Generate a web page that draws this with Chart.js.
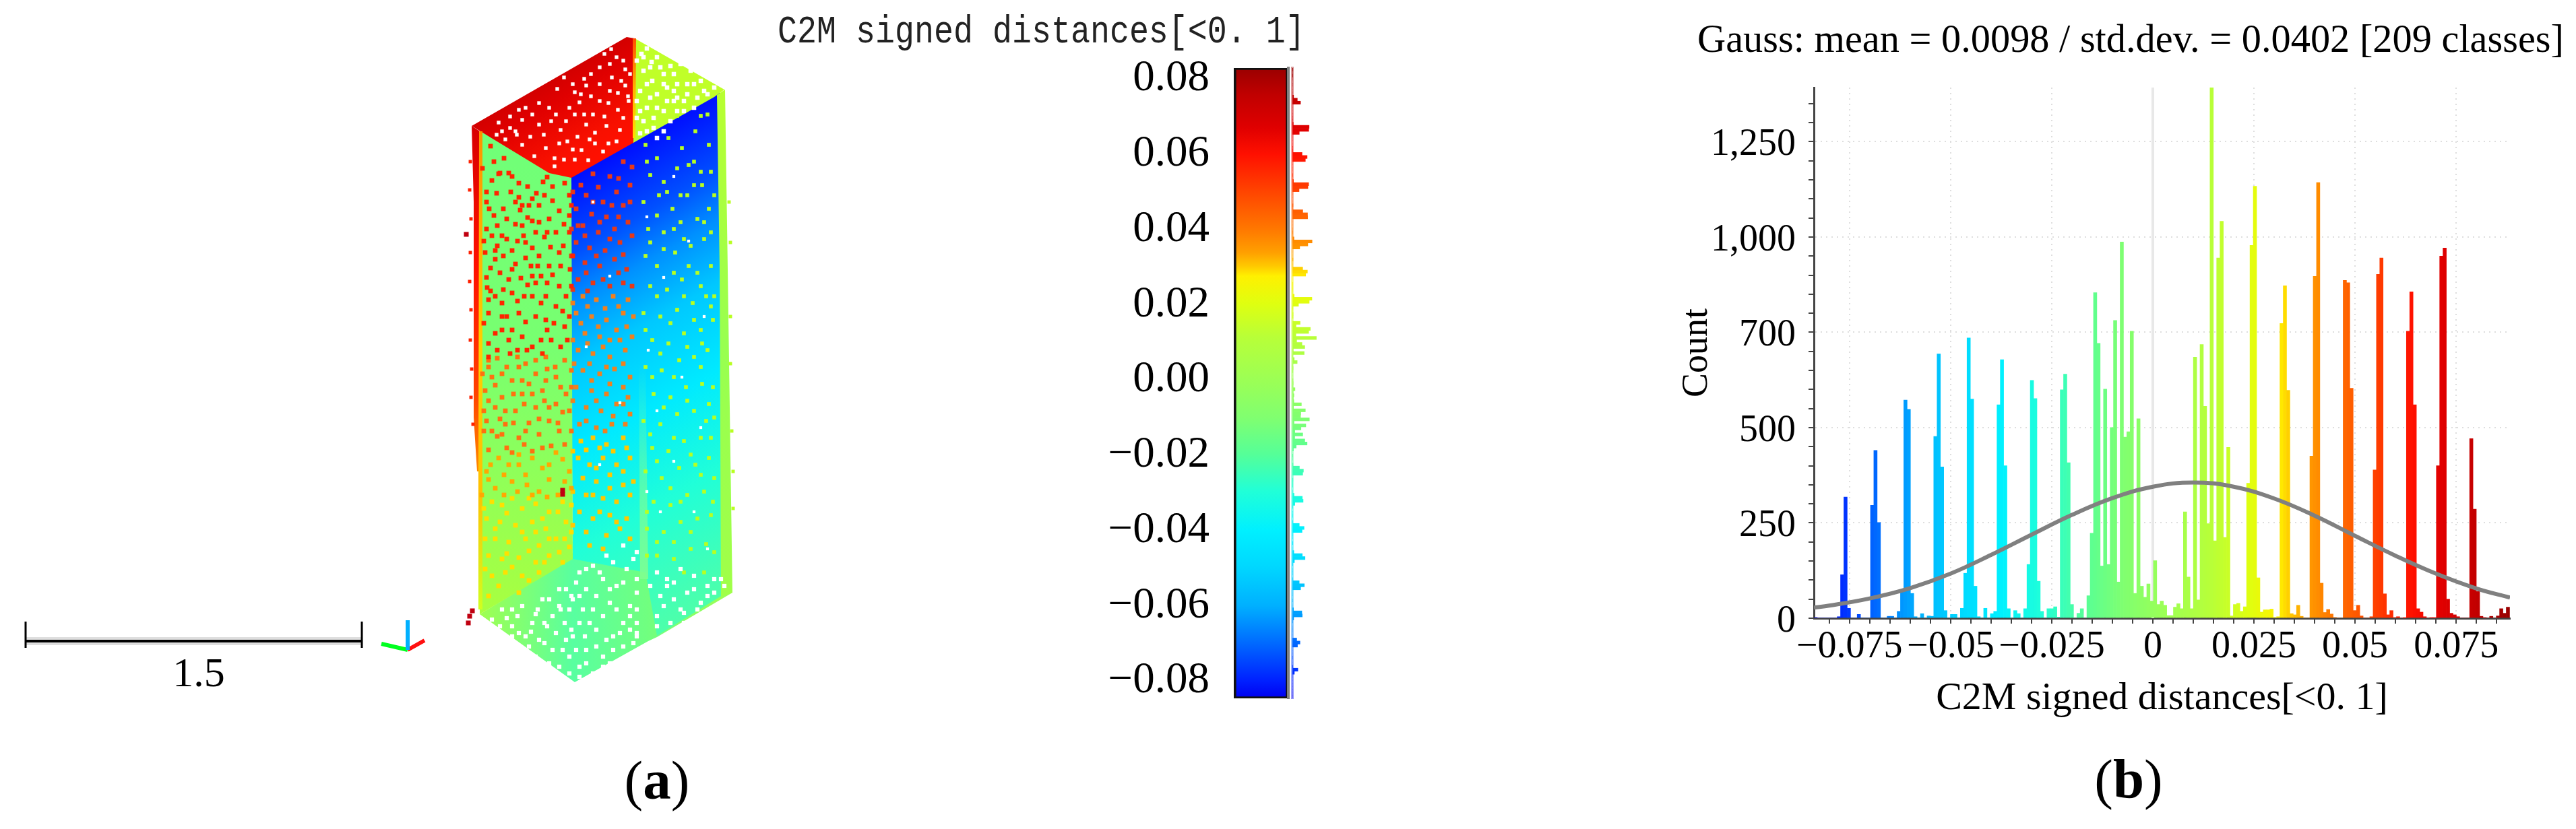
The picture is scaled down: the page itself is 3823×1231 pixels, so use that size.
<!DOCTYPE html>
<html lang="en">
<head>
<meta charset="UTF-8" />
<title>C2M signed distances</title>
<style>
  html, body { margin: 0; background: #fff; overflow: hidden; }
  canvas { position: absolute; }
</style>
<script src="https://cdn.jsdelivr.net/npm/chart.js"></script>
</head>
<body>
<canvas id="cloudChart" style="left:0;top:0" width="1100" height="1231"></canvas>
<canvas id="barChart" style="left:1100px;top:0" width="1000" height="1231"></canvas>
<canvas id="sideChart" style="left:1914px;top:0" width="120" height="1231"></canvas>
<canvas id="histChart" style="left:2440px;top:0" width="1383" height="1231"></canvas>
<script>
// ---- histogram, read class by class from panel (b)
const classCounts = [
  2,0,0,0,0,0,0,4,114,318, 26,0,0,10,0,0,0,296,440,251,
  0,0,5,5,0,18,73,572,548,65, 4,0,12,0,6,5,477,693,397,20,
  0,10,10,0,26,118,735,575,84,4, 0,26,0,12,18,560,678,400,25,0,
  20,12,0,25,141,624,576,97,18,0, 25,25,30,3,599,640,408,36,0,13,
  25,0,59,223,854,721,137,601,141,500, 781,95,987,475,489,753,65,523,84,55,
  90,45,151,36,45,34,7,7,29,38, 25,279,108,25,685,48,718,556,248,1392,
  203,945,1041,212,448,6,36,39,18,30, 354,978,1133,106,16,22,22,24,2,4,
  773,872,598,12,9,34,5,0,0,425, 897,1143,92,15,23,11,2,0,0,886,
  880,603,20,34,6,0,0,4,389,902, 945,64,9,20,2,4,0,1,753,856,
  560,25,16,4,0,1,1,400,950,971, 50,13,9,4,0,0,0,471,286,70,
  5,1,0,5,0,6,25,13,29
];
const classStart = -0.0838;
const classWidth = 0.000823;

const gaussX = [-0.0838,-0.08,-0.07,-0.06,-0.05,-0.04,-0.03,-0.02,-0.01,0,0.01,0.02,0.03,0.04,0.05,0.06,0.07,0.08,0.0883];
const gaussY = [28,33,52,79,117,166,219,271,315,345,356,345,314,269,216,164,117,78,54];

const xTickValues = [-0.075,-0.05,-0.025,0,0.025,0.05,0.075];
const xTickLabels = ['−0.075','−0.05','−0.025','0','0.025','0.05','0.075'];
const yTickValues = [0,250,500,750,1000,1250];
const yTickLabels = ['0','250','500','700','1,000','1,250'];

// ---- colour scale
const barTickValues = [0.08,0.06,0.04,0.02,0,-0.02,-0.04,-0.06,-0.08];
const barTickLabels = ['0.08','0.06','0.04','0.02','0.00','−0.02','−0.04','−0.06','−0.08'];
const barMin = -0.0846;
const barMax = 0.0829;
const rampStops = [
  [0,'#0000f0'],[0.028,'#0020ff'],[0.093,'#0070ff'],[0.147,'#00b0ff'],[0.21,'#00d8ff'],
  [0.267,'#00f0ff'],[0.328,'#20ffd8'],[0.387,'#55ff98'],[0.445,'#80ff70'],[0.505,'#9cff55'],
  [0.573,'#b8ff38'],[0.626,'#dfff10'],[0.67,'#fff000'],[0.686,'#ffc800'],[0.707,'#ffa000'],
  [0.745,'#ff7700'],[0.809,'#ff4000'],[0.863,'#ff1000'],[0.905,'#e00000'],[0.958,'#c00000'],[1,'#9a0000']
];

// ---- point cloud of panel (a), in picture pixels
const redTopFace = [[700,187],[930,55],[942,57],[940,212],[848,264],[815,257],[713,195]];
const limeTopFace = [[942,57],[1075,133],[1060,144],[940,212]];
const greenFace = [[712,195],[848,263],[850,830],[712,912]];
const blueFace = [[846,258],[1060,138],[1068,136],[1072,884],[975,944],[958,850],[850,830]];
const bottomFace = [[712,912],[850,828],[945,800],[960,850],[1087,880],[975,946],[962,952],[853,1013]];
const leftStrip = [[700,187],[712,195],[712,700],[708,700],[703,620],[703,300]];
const yellowStrip = [[711,195],[716,195],[716,905],[710,905],[710,700]];
const rightStrip = [[1064,141],[1076,133],[1080,400],[1087,880],[1070,886],[1068,400]];
const ridgeStrip = [[939,57],[944,57],[943,205],[939,205]];
const paleBand = [[948,540],[958,540],[962,860],[950,860]];

const redTopGaps = [[907,73],[897,80],[908,115],[928,103],[867,117],[877,110],[870,127],[853,137],[877,143],[860,152],[903,153],[917,138],[932,143],[928,127],[837,115],[827,132],[800,153],[770,163],[775,178],[757,173],[757,190],[740,182],[818,180],[832,193],[853,170],[867,170],[897,173],[917,163],[920,193],[883,197],[857,203],[875,207],[842,210],[830,213],[807,200],[787,203],[767,200],[750,207],[737,200],[863,223],[837,237],[823,235],[853,237],[873,238],[793,232],[823,247],[883,213],[933,150],[900,187],[903,213],
  [915,85],[890,100],[905,95],[922,120],[850,125],[890,125],[905,135],[815,160],[790,170],[845,160],[880,170],[925,175],[765,195],[800,185],[825,170],[870,185],[840,180],[895,225],[850,222],[810,220],[775,215],[745,195],[915,210],[925,90],[935,110],[780,160],[890,150],[862,140]];
const limeTopGaps = [[952,80],[960,72],[967,92],[975,85],[955,105],[985,110],[995,98],[1005,125],[968,120],[950,135],[975,140],[990,150],[1000,135],[1020,125],[1035,145],[1015,150],[960,160],[985,165],[1005,165],[1040,120],[955,180],[970,190],[995,180],[950,198],[960,195],[1050,140],[1025,105],[1010,95],[985,125],[945,150],
  [965,100],[980,100],[1000,110],[945,90],[960,125],[975,160],[1020,140],[1030,125],[1045,135],[1005,145],[950,165],[965,145],[990,130],[1015,165],[975,205],[945,175],[985,195],[970,175],[1000,150],[955,85],[1030,160],[1060,130]];
const bottomGaps = [[730,920],[745,905],[760,930],[775,900],[790,925],[805,890],[820,915],[840,875],[735,945],[755,955],[780,945],[800,950],[825,940],[845,905],[770,970],[795,975],[820,965],[840,950],[805,995],[830,990],[845,975],[760,905],[785,960],[815,890],[838,925],[860,850],[880,840],[900,825],[925,810],[940,830],[945,860],[945,880],[870,875],[895,860],[915,870],[935,900],[860,885],[880,905],[905,895],[925,925],[860,925],[885,935],[910,945],[935,935],[870,965],[895,975],[925,960],[860,990],[880,1000],[905,985],[945,925],[945,945],[975,850],[990,860],[1010,845],[1030,855],[1050,870],[1070,860],[980,885],[1000,890],[1020,880],[1040,895],[975,915],[995,925],[1015,910],[990,945],[1060,880],
  [722,925],[752,918],[768,915],[798,905],[830,900],[848,885],[728,935],[742,930],[770,940],[788,938],[812,930],[832,905],[745,945],[765,955],[808,955],[835,965],[782,975],[790,990],[815,985],[760,945],[848,935],[822,1000],[845,1000],[795,912],[808,925],[855,865],[870,845],[890,850],[910,835],[930,845],[925,865],[905,875],[885,885],[865,905],[850,945],[875,925],[895,915],[915,905],[935,915],[945,905],[868,945],[900,950],[920,940],[855,965],[885,960],[910,965],[940,955],[870,985],[895,990],[915,985],[945,940],[860,1005],[965,870],[1000,865],[985,900],[1010,905],[1030,875],[1050,885],[1035,905],[1015,925],[975,930],[1005,940],[1075,870],[990,870],[1060,860],[850,890],[830,875],[945,820]];
const sideGaps = [[1000,262],[960,322],[1022,358],[985,412],[1045,470],[962,520],[1012,560],[975,610],[1040,635],[1000,685],[960,730],[1030,760],[880,300],[905,410],[870,515],[920,598],[890,690],[980,760],[1050,815]];

const greenRedSpecks = [[728,217],[733,240],[742,257],[730,268],[770,272],[783,277],[737,287],[770,293],[796,287],[747,310],[783,323],[790,328],[765,333],[733,320],[830,313],[820,277],[812,263],[777,350],[780,360],[730,350],[817,367],[747,380],[780,383],[803,410],[773,413],[723,427],[747,430],[783,423],[837,333],[722,300],[755,257],[800,305],[845,290],[722,340],[760,372],[795,345],[832,395],[742,405],[810,440],[768,447],[725,465],[752,470],[795,470],[840,440],[822,480],[735,495],[775,500],[803,505],[757,525],[720,375],[765,300],[825,345],[800,380],[745,350],[836,365],[788,395],[760,400],[728,398],[812,420],[790,440],[745,450],[830,425],[725,445],[780,478],[845,470],[760,490],[818,505],[738,520],[790,515],[842,505],
  [716,250],[748,235],[760,262],[790,295],[808,290],[838,272],[726,310],[752,325],[772,312],[815,325],[845,320],[718,358],[738,365],[768,358],[790,368],[808,352],[845,345],[735,385],[765,392],[815,395],[846,400],[722,412],[755,415],[795,420],[820,408],[735,440],[760,435],[778,440],[803,450],[825,455],[848,425],[718,480],[745,490],[770,465],[810,475],[835,462],[725,510],[755,505],[782,520],[812,490],[832,515],[722,285],[758,285],[806,270],[848,305],[738,335],[775,335],[800,330],[820,298],[740,258],[785,305],[830,375],[752,355],[728,432],[798,395],[838,485],[768,520],[745,470],[805,525],[725,530],[775,305],[812,345],[790,410],[850,380],[735,372]];
const greenOrangeSpecks = [[725,535],[752,545],[780,540],[810,530],[838,535],[730,560],[760,565],[795,555],[825,560],[720,580],[745,590],[775,585],[805,580],[840,585],[735,605],[765,610],[795,605],[825,600],[722,625],[750,630],[785,628],[815,625],[845,610],[738,648],[770,650],[800,645],[830,640],[760,672],[790,670],[725,668],[818,662],[745,555],[775,565],[812,548],
  [738,532],[768,530],[795,535],[824,545],[848,550],[716,555],[735,572],[762,585],[785,570],[810,565],[832,575],[725,595],[750,610],[778,600],[808,595],[835,612],[718,640],[745,645],[762,628],[800,622],[828,628],[848,640],[730,640],[752,665],[778,660],[805,665],[838,660],[718,610],[790,585],[848,575],[770,545],[725,545],[815,605],[742,622],[780,640]];
const greenAmberSpecks = [[728,690],[740,680],[748,705],[770,690],[790,680],[805,695],[825,672],[835,682],[845,700],[760,715],[782,720],[815,712],[735,725],[800,730],
  [722,700],[755,690],[780,705],[815,690],[838,715],[725,712],[768,730],[790,735],[828,735],[748,735],[848,725],[715,735],[812,738],[770,675]];
const greenYellowSpecks = [[730,745],[745,750],[760,740],[775,755],[795,748],[815,760],[835,745],[722,770],[742,775],[765,780],[790,775],[810,785],[840,775],[735,800],[755,805],[780,800],[800,810],[825,800],[845,812],[725,825],[745,830],[770,828],[795,835],[815,825],[835,835],[750,850],[775,855],[730,855],[800,850],
  [718,755],[752,762],[785,740],[805,770],[828,760],[848,750],[735,785],[775,790],[815,800],[720,800],[752,822],[785,818],[808,835],[838,800],[720,845],[760,842],[785,862],[740,870],[770,880],[725,885],[848,790],[795,790],[830,820]];
const blueRedSpecks = [[862,275],[880,258],[905,262],[925,240],[870,290],[895,300],[915,285],[935,275],[855,310],[878,318],[900,322],[925,305],[865,335],[888,345],[912,340],[932,330],[855,360],[875,368],[898,372],[920,360],[938,350],[868,390],[890,395],[912,385],[930,400],[858,415],[880,420],[905,425],[925,420],
  [850,285],[888,278],[918,265],[938,248],[858,335],[880,300],[908,305],[935,300],[848,340],[890,330],[918,322],[868,350],[905,355],[848,380],[885,380],[925,378],[870,405],[895,415],[918,405],[938,425],[850,430],[872,432]];
const blueOrangeSpecks = [[865,440],[885,445],[910,440],[932,445],[855,465],[878,470],[900,475],[925,465],[868,495],[890,500],[915,490],[938,500],[858,520],[880,525],[905,530],[928,520],[865,550],[890,555],[912,548],[935,560],[855,575],[878,580],[900,585],[925,575],[870,605],[892,610],[915,600],[935,615],[860,630],[885,635],[908,630],
  [850,450],[872,455],[898,458],[918,455],[940,470],[862,480],[888,485],[905,505],[930,485],[850,505],[872,510],[895,515],[920,505],[852,540],[875,540],[900,545],[925,540],[878,565],[905,570],[932,590],[850,595],[885,595],[910,618],[925,600],[870,625],[898,640],[928,630]];
const blueYellowSpecks = [[862,655],[880,650],[900,660],[925,650],[858,680],[875,690],[895,680],[915,690],[935,680],[865,710],[885,715],[905,705],[925,720],[870,735],[895,740],[915,745],[935,735],[860,760],[880,770],[905,765],[930,770],[870,790],[900,795],[920,785],
  [850,670],[870,668],[890,665],[910,670],[930,665],[885,695],[905,725],[880,735],[850,730],[925,700],[940,715],[850,780],[890,760],[915,775],[875,810],[895,815],[935,800]];
const cyanLimeSpecks = [[958,215],[975,235],[992,205],[1012,220],[1032,195],[1050,170],[965,260],[985,270],[1005,250],[1030,240],[1052,215],[955,300],[978,290],[998,310],[1020,290],[1042,275],[1055,255],[962,340],[985,345],[1010,330],[1035,325],[1052,310],[958,380],[975,395],[1002,375],[1025,365],[1045,355],[965,425],[990,430],[1012,415],[1035,405],[1055,395],[955,465],[980,470],[1005,460],[1028,450],[1048,440],[968,505],[992,510],[1015,495],[1040,490],[1058,475],[958,545],[982,550],[1008,535],[1030,530],[1050,520],[970,585],[995,590],[1018,575],[1042,570],[955,625],[980,630],[1005,615],[1030,610],[1052,600],[968,665],[992,670],[1015,655],[1040,650],[958,700],[982,710],[1008,695],[1032,690],[1052,680],[970,745],[995,750],[1020,735],[1045,730],[960,785],[985,790],[1010,775],[1035,770],[1055,765],[975,825],[1000,830],[1025,815],[1048,808],
  [968,180],[1005,172],[1040,172],[1022,245],[960,240],[1040,255],[990,285],[1010,290],[1030,275],[975,320],[1000,340],[1045,330],[965,360],[1015,355],[985,370],[1055,345],[1000,405],[1022,395],[975,440],[1040,425],[1015,440],[958,490],[995,480],[1030,475],[1055,455],[980,525],[1020,515],[1042,510],[1000,560],[1040,545],[968,560],[985,605],[1020,595],[1058,575],[965,645],[1000,650],[1048,625],[975,685],[1025,675],[1055,650],[995,725],[1040,705],[960,760],[1010,745],[1058,745],[975,805],[1025,790],[1000,805],[1060,820],[1045,850],[1015,850],[960,825],[1060,290],[1060,440],[1060,620],[1060,710]];
const leftFringe = [[698,240],[697,282],[699,325],[698,375],[697,418],[699,460],[698,505],[700,548],[699,590],[702,630]];
const rightFringe = [[1082,300],[1084,360],[1084,470],[1084,540],[1086,640],[1088,700],[1088,755]];
const outliers = [[692,348],[835,728],[835,734],[697,915],[701,907],[695,925]];

const scaleBarLine = [[38,952],[537,952]];
const scaleBarLeft = [[38,923],[38,962]];
const scaleBarRight = [[537,923],[537,962]];
const axisUp = [[605,965],[605,921]];
const axisLeft = [[605,965],[566,956]];
const axisRight = [[605,965],[630,951]];

// ---- shared helpers
const SERIF = "'Liberation Serif', serif";
const noExtras = { legend: { display: false }, tooltip: { enabled: false } };

function rampColor(t) {
  let i = 1;
  while (i < rampStops.length - 1 && rampStops[i][0] < t) i++;
  const [t0, c0] = rampStops[i - 1], [t1, c1] = rampStops[i];
  const f = Math.min(1, Math.max(0, (t - t0) / (t1 - t0)));
  const rgb = [1, 3, 5].map(k => {
    const a = parseInt(c0.substr(k, 2), 16), b = parseInt(c1.substr(k, 2), 16);
    return Math.round(a + (b - a) * f);
  });
  return `rgb(${rgb.join(',')})`;
}

function gradient(ctx, x0, y0, x1, y1, stops) {
  const g = ctx.createLinearGradient(x0, y0, x1, y1);
  stops.forEach(s => g.addColorStop(s[0], s[1]));
  return g;
}

// draws the texts that have no axis of their own; parts = runs drawn one after the other
function captions(items) {
  return {
    id: 'captions',
    afterDraw(chart) {
      const c = chart.ctx;
      items.forEach(it => {
        c.save();
        c.fillStyle = it.color || '#000';
        c.textBaseline = 'middle';
        c.textAlign = it.align || 'center';
        c.translate(it.x, it.y);
        if (it.parts) {
          const widths = it.parts.map(p => { c.font = p.font; return c.measureText(p.text).width; });
          let x = -widths.reduce((a, b) => a + b, 0) / 2;
          c.textAlign = 'left';
          it.parts.forEach((p, i) => { c.font = p.font; c.fillText(p.text, x, 0); x += widths[i]; });
        } else {
          c.font = it.font;
          if (it.stretch) c.scale(it.stretch, 1);
          if (it.maxWidth) c.fillText(it.text, 0, 0, it.maxWidth);
          else c.fillText(it.text, 0, 0);
        }
        c.restore();
      });
    }
  };
}

// ---- panel (a)
const cloudCtx = document.getElementById('cloudChart').getContext('2d');
const poly = (data, color) => ({ data, showLine: true, fill: 'shape', backgroundColor: color, borderWidth: 0, pointRadius: 0, tension: 0 });
const specks = (data, color, r) => ({ data, backgroundColor: color, borderWidth: 0, pointStyle: 'rect', pointRadius: r || 4.8 });
const stroke = (data, color, w) => ({ data, showLine: true, borderColor: color, borderWidth: w, pointRadius: 0, tension: 0 });

const sideGrad = gradient(cloudCtx, 1000, 180, 1400, 876, [
  [0,'#0010ff'],[0.12,'#0050ff'],[0.2,'#0090ff'],[0.3,'#00c8ff'],[0.44,'#00eaff'],[0.6,'#20ffd8'],[0.78,'#48ffb0'],[1,'#70ff80']]);
const greenGrad = gradient(cloudCtx, 0, 200, 0, 910, [[0,'#70ff78'],[0.45,'#78ff70'],[0.72,'#90ff58'],[1,'#a8ff40']]);
const bottomGrad = gradient(cloudCtx, 712, 0, 1087, 0, [[0,'#a0ff50'],[0.37,'#58ffa0'],[0.66,'#70ff80'],[1,'#a0ff50']]);
const redTopGrad = gradient(cloudCtx, 800, 100, 880, 240, [[0,'#c80000'],[0.35,'#e00000'],[0.8,'#f81000'],[1,'#ff1000']]);
const leftGrad = gradient(cloudCtx, 0, 190, 0, 710, [[0,'#d80000'],[0.4,'#ff1000'],[0.75,'#ff4000'],[1,'#ff9000']]);
const yellowGrad = gradient(cloudCtx, 0, 195, 0, 905, [[0,'#ff9000'],[0.45,'#ffd000'],[0.75,'#ffc000'],[1,'#d0ff20']]);
const ridgeGrad = gradient(cloudCtx, 0, 57, 0, 205, [[0,'#ff5000'],[0.5,'#ffb000'],[1,'#ffe000']]);
const rightGrad = gradient(cloudCtx, 0, 133, 0, 885, [[0,'#b8ff30'],[0.5,'#98ff50'],[1,'#a0ff48']]);
const paleGradBand = gradient(cloudCtx, 0, 540, 0, 860, [[0,'rgba(128,255,144,0)'],[0.6,'rgba(128,255,144,0.6)'],[1,'rgba(128,255,144,0.9)']]);

new Chart(cloudCtx, {
  type: 'scatter',
  data: { datasets: [
    stroke(axisUp, '#00b0ff', 6), stroke(axisLeft, '#00ff20', 6), stroke(axisRight, '#ff1010', 6),
    stroke(scaleBarLeft, '#000', 3), stroke(scaleBarRight, '#000', 3),
    stroke(scaleBarLine, '#000', 4), stroke(scaleBarLine, '#dedede', 12),
    specks(outliers, '#c00010', 5),
    specks(redTopGaps, '#ffffff', 3.8), specks(limeTopGaps, '#ffffff', 4.6),
    specks(bottomGaps, '#ffffff', 4.4), specks(sideGaps, '#ffffff', 3),
    specks(greenRedSpecks, '#ff2400'), specks(greenOrangeSpecks, '#ff7010'),
    specks(greenAmberSpecks, '#ffa800'), specks(greenYellowSpecks, '#ffe000'),
    specks(blueRedSpecks, '#e83818'), specks(blueOrangeSpecks, '#f08020'),
    specks(blueYellowSpecks, '#ffc800'), specks(cyanLimeSpecks, '#b8ff20', 4),
    specks(leftFringe, '#ff2000', 3.5), specks(rightFringe, '#b8ff20', 3.5),
    poly(ridgeStrip, ridgeGrad), poly(yellowStrip, yellowGrad), poly(leftStrip, leftGrad),
    poly(paleBand, paleGradBand), poly(rightStrip, rightGrad),
    poly(redTopFace, redTopGrad), poly(limeTopFace, '#c0ff28'),
    poly(greenFace, greenGrad), poly(blueFace, sideGrad), poly(bottomFace, bottomGrad)
  ] },
  options: {
    responsive: false, animation: false, devicePixelRatio: 1,
    layout: { autoPadding: false },
    plugins: noExtras,
    scales: {
      x: { type: 'linear', min: 0, max: 1100, display: false },
      y: { type: 'linear', min: 0, max: 1231, reverse: true, display: false }
    }
  },
  plugins: [captions([
    { text: '1.5', x: 295, y: 1003, font: `62px ${SERIF}` },
    { x: 975, y: 1165, parts: [
      { text: '(', font: `83px ${SERIF}` }, { text: 'a', font: `bold 83px ${SERIF}` }, { text: ')', font: `83px ${SERIF}` }
    ] }
  ])]
});

// ---- colour scale
const barCtx = document.getElementById('barChart').getContext('2d');
const rampGrad = gradient(barCtx, 0, 1037, 0, 101, rampStops);
new Chart(barCtx, {
  type: 'bar',
  data: {
    labels: ['C2M'],
    datasets: [{
      data: [[barMin, barMax]],
      backgroundColor: rampGrad,
      borderColor: '#111',
      borderWidth: { left: 4, right: 4, top: 3, bottom: 3 },
      borderSkipped: false,
      barPercentage: 1, categoryPercentage: 1
    }]
  },
  options: {
    responsive: false, animation: false, devicePixelRatio: 1,
    layout: { autoPadding: false, padding: { top: 101, bottom: 194, right: 188 } },
    plugins: noExtras,
    scales: {
      x: { display: false },
      y: {
        min: barMin, max: barMax,
        afterFit: s => { s.width = 731; },
        afterBuildTicks: s => { s.ticks = barTickValues.map(v => ({ value: v })); },
        grid: { display: false }, border: { display: false },
        ticks: {
          padding: 28, color: '#000', font: { family: SERIF, size: 65 },
          callback: (v, i) => barTickLabels[i]
        }
      },
      edge: {
        axis: 'y', position: 'right', min: barMin, max: barMax,
        afterFit: s => { s.width = 0; },
        grid: { display: false }, ticks: { display: false },
        border: { color: '#808080', width: 4, z: 1 }
      }
    }
  },
  plugins: [captions([
    { text: 'C2M signed distances[<0. 1]', x: 54, y: 48, align: 'left', color: '#222', font: '58px "Liberation Mono", monospace', stretch: 0.833 }
  ])]
});

// ---- small histogram beside the colour scale
const sideCtx = document.getElementById('sideChart').getContext('2d');
const paleGrad = gradient(sideCtx, 0, 1037, 0, 101,
  rampStops.map(s => [s[0], s[1] + '66']));
new Chart(sideCtx, {
  type: 'bar',
  data: {
    labels: classCounts.map((c, i) => i + 1),
    datasets: [{
      data: classCounts,
      backgroundColor: classCounts.map((c, i) => rampColor(i / 208)),
      barPercentage: 1, categoryPercentage: 1
    }]
  },
  options: {
    indexAxis: 'y',
    responsive: false, animation: false, devicePixelRatio: 1,
    layout: { autoPadding: false, padding: { top: 101, bottom: 194, left: 4 } },
    plugins: noExtras,
    scales: {
      x: { display: false, min: 0, max: 4540 },
      y: {
        reverse: true,
        afterFit: s => { s.width = 0; },
        grid: { display: false }, ticks: { display: false },
        border: { color: paleGrad, width: 4 }
      }
    }
  }
});

// ---- panel (b)
const histCtx = document.getElementById('histChart').getContext('2d');
const isListed = (list, v) => list.findIndex(t => Math.abs(t - v) < 1e-6);
new Chart(histCtx, {
  type: 'bar',
  data: { datasets: [
    {
      type: 'line',
      data: gaussX.map((x, i) => ({ x, y: gaussY[i] })),
      borderColor: '#808080', borderWidth: 6, pointRadius: 0, tension: 0.4
    },
    {
      data: classCounts.map((c, i) => ({ x: classStart + (i + 0.5) * classWidth, y: c })),
      backgroundColor: classCounts.map((c, i) => rampColor(i / 208)),
      barPercentage: 1, categoryPercentage: 1
    },
    {
      type: 'line',
      data: [{ x: 0, y: 0 }, { x: 0, y: 1392 }],
      borderColor: '#e8e8e8', borderWidth: 4, pointRadius: 0
    }
  ] },
  options: {
    responsive: false, animation: false, devicePixelRatio: 1,
    layout: { autoPadding: false, padding: { top: 130, right: 98, bottom: 131 } },
    plugins: noExtras,
    scales: {
      x: {
        type: 'linear', offset: false,
        min: -0.0838, max: 0.0883,
        afterFit: s => { s.height = 182; },
        grid: {
          offset: false, tickLength: 8, lineWidth: 2, tickWidth: 2, tickColor: '#444',
          color: c => isListed(xTickValues, c.tick.value) >= 0 ? '#dedede' : 'transparent'
        },
        border: { color: '#444', width: 3, dash: [2, 6] },
        ticks: {
          stepSize: 0.005, includeBounds: false, autoSkip: false, maxRotation: 0, minRotation: 0,
          padding: 2, color: '#000', font: { family: SERIF, size: 56 },
          callback: v => { const i = isListed(xTickValues, v); return i >= 0 ? xTickLabels[i] : ''; }
        },
        title: {
          display: true, text: 'C2M signed distances[<0. 1]', color: '#000',
          font: { family: SERIF, size: 58 }, padding: { top: 0, bottom: 27 }
        }
      },
      y: {
        min: 0, max: 1392,
        afterFit: s => { s.width = 252; },
        grid: {
          tickLength: 8, lineWidth: 2, tickWidth: 2, tickColor: '#444',
          color: c => isListed(yTickValues, c.tick.value) >= 0 ? '#dedede' : 'transparent'
        },
        border: { color: '#444', width: 3, dash: [2, 6] },
        ticks: {
          stepSize: 50, includeBounds: false, autoSkip: false, padding: 19, labelOffset: 5,
          color: '#000', font: { family: SERIF, size: 56 },
          callback: v => { const i = isListed(yTickValues, v); return i >= 0 ? yTickLabels[i] : ''; }
        },
        title: {
          display: true, text: 'Count', color: '#000',
          font: { family: SERIF, size: 54 }, padding: { top: 46, bottom: 0 }
        }
      }
    }
  },
  plugins: [captions([
    { text: 'Gauss: mean = 0.0098 / std.dev. = 0.0402 [209 classes]', x: 722, y: 61, font: `60px ${SERIF}`, maxWidth: 1286 },
    { x: 719, y: 1163, parts: [
      { text: '(', font: `83px ${SERIF}` }, { text: 'b', font: `bold 83px ${SERIF}` }, { text: ')', font: `83px ${SERIF}` }
    ] }
  ])]
});
</script>
</body>
</html>
